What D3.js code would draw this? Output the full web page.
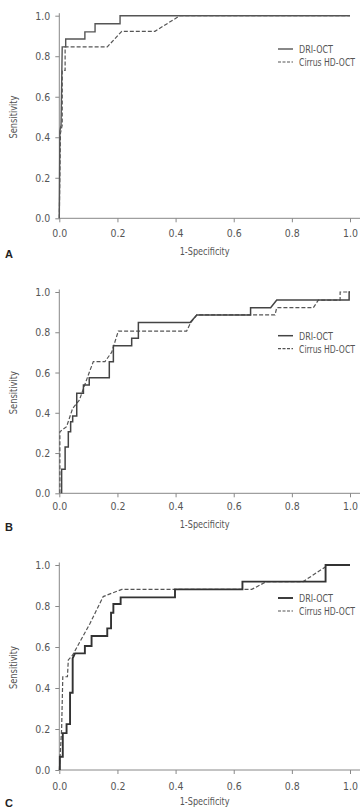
<!DOCTYPE html>
<html>
<head>
<meta charset="utf-8">
<script src="https://cdn.jsdelivr.net/npm/d3@7"></script>
<style>
  body { margin: 0; background: #fff; }
  svg { display: block; }
  text { font-family: "Liberation Sans Narrow", "DejaVu Sans Condensed", "DejaVu Sans", sans-serif; font-stretch: condensed; fill: #555; }
</style>
</head>
<body>
<svg id="chart" width="361" height="808"></svg>
<script>
// ROC points [1-specificity, sensitivity]
var driA = [[0,0],[0.002,0.43],[0.006,0.46],[0.01,0.846],[0.022,0.846],[0.022,0.885],[0.088,0.885],[0.088,0.92],[0.123,0.92],[0.123,0.96],[0.209,0.96],[0.209,1.0],[1.0,1.0]]
var cirrusA = [[0,0],[0.004,0.42],[0.01,0.46],[0.01,0.73],[0.02,0.73],[0.02,0.846],[0.165,0.846],[0.215,0.923],[0.329,0.923],[0.415,1.0],[1.0,1.0]]

var driB = [[0.008,0],[0.008,0.119],[0.02,0.119],[0.02,0.23],[0.031,0.23],[0.031,0.306],[0.039,0.306],[0.039,0.356],[0.046,0.356],[0.046,0.384],[0.06,0.384],[0.06,0.497],[0.083,0.497],[0.083,0.538],[0.103,0.538],[0.103,0.574],[0.172,0.574],[0.172,0.654],[0.186,0.654],[0.186,0.733],[0.249,0.733],[0.249,0.77],[0.272,0.77],[0.272,0.848],[0.45,0.848],[0.473,0.886],[0.658,0.886],[0.658,0.922],[0.727,0.922],[0.748,0.96],[0.997,0.96],[0.997,1.0],[1.0,1.0]]
var cirrusB = [[0.002,0],[0.002,0.306],[0.025,0.331],[0.046,0.422],[0.069,0.463],[0.083,0.52],[0.106,0.612],[0.117,0.654],[0.157,0.654],[0.18,0.70],[0.203,0.806],[0.438,0.806],[0.452,0.848],[0.473,0.886],[0.742,0.886],[0.748,0.922],[0.874,0.922],[0.891,0.96],[0.966,0.96],[0.966,1.0],[1.0,1.0]]

var driC = [[0.002,0],[0.002,0.065],[0.012,0.065],[0.012,0.18],[0.025,0.18],[0.025,0.224],[0.037,0.224],[0.037,0.377],[0.046,0.377],[0.046,0.545],[0.054,0.569],[0.088,0.569],[0.088,0.605],[0.111,0.605],[0.111,0.654],[0.165,0.654],[0.165,0.691],[0.178,0.691],[0.178,0.767],[0.186,0.767],[0.186,0.81],[0.211,0.81],[0.211,0.842],[0.398,0.842],[0.398,0.881],[0.63,0.881],[0.63,0.919],[0.916,0.919],[0.916,1.0],[1.0,1.0]]
var cirrusC = [[0,0],[0.008,0.2],[0.012,0.455],[0.028,0.455],[0.031,0.537],[0.046,0.561],[0.071,0.626],[0.106,0.716],[0.151,0.846],[0.18,0.862],[0.215,0.881],[0.662,0.881],[0.713,0.919],[0.839,0.919],[0.925,1.0],[1.0,1.0]]

var tickValues = [0, 0.2, 0.4, 0.6, 0.8, 1.0]
var seriesNames = ["DRI-OCT", "Cirrus HD-OCT"]
var panelLetters = ["A", "B", "C"]
var xTitle = "1-Specificity"
var yTitle = "Sensitivity"

var panels = [
    {letter: panelLetters[0], dri: driA, cirrus: cirrusA, top: 15.7, bottom: 218.3, pad: 7, xTitleY: 255, letterY: 258, legendY: 49, driWidth: 1.4, driColor: "#555"},
    {letter: panelLetters[1], dri: driB, cirrus: cirrusB, top: 292, bottom: 493.3, pad: 5, xTitleY: 528, letterY: 531, legendY: 335.7, driWidth: 1.5, driColor: "#444"},
    {letter: panelLetters[2], dri: driC, cirrus: cirrusC, top: 565, bottom: 770, pad: 8, xTitleY: 805, letterY: 807, legendY: 598, driWidth: 1.9, driColor: "#333"}
]

var dimensions = { left: 59.3, right: 350 }
var legendWidths = [34, 56]

var svg = d3.select("#chart")

// squeeze a text horizontally to the reference width if the installed font runs wider
function fitWidth(sel, w) {
    sel.each(function () {
        var len = this.getComputedTextLength()
        if (len > w) {
            var t = d3.select(this)
            var x = +t.attr("x") || 0
            var prev = t.attr("transform") || ""
            t.attr("transform", prev + " translate(" + x + ",0) scale(" + (w / len) + ",1) translate(" + (-x) + ",0)")
        }
    })
}

panels.forEach(function (p) {
    var xScale = d3.scaleLinear().domain([0, 1]).range([dimensions.left, dimensions.right])
    var yScale = d3.scaleLinear().domain([0, 1]).range([p.bottom, p.top])

    var g = svg.append("g")

    //x axis
    var xAxis = g.append("g")
        .attr("transform", "translate(0," + p.bottom + ")")
        .call(d3.axisBottom(xScale).tickValues(tickValues).tickFormat(d3.format(".1f")).tickSize(4).tickSizeOuter(0).tickPadding(p.pad))
    xAxis.select(".domain").attr("d", "M" + xScale(0) + ",0H" + (xScale(1) + 10))

    //y axis
    var yAxis = g.append("g")
        .attr("transform", "translate(" + dimensions.left + ",0)")
        .call(d3.axisLeft(yScale).tickValues(tickValues).tickFormat(d3.format(".1f")).tickSize(4).tickSizeOuter(0).tickPadding(5))
    yAxis.select(".domain").attr("d", "M0," + yScale(0) + "V" + (yScale(1) - 2.5))

    g.selectAll(".domain, .tick line").attr("stroke", "#888").attr("stroke-width", 1)
    g.selectAll(".tick text")
        .style("font-family", "\"Liberation Sans Narrow\", \"DejaVu Sans Condensed\", \"DejaVu Sans\", sans-serif")
        .style("font-stretch", "condensed")
        .style("font-size", "11px")
        .attr("fill", "#666")
        .call(fitWidth, 15)

    var line = d3.line().x(d => xScale(d[0])).y(d => yScale(d[1]))

    g.append("path")
        .datum(p.cirrus)
        .attr("d", line)
        .attr("fill", "none")
        .attr("stroke", "#555")
        .attr("stroke-width", 1.2)
        .attr("stroke-dasharray", "4,2")

    g.append("path")
        .datum(p.dri)
        .attr("d", line)
        .attr("fill", "none")
        .attr("stroke", p.driColor)
        .attr("stroke-width", p.driWidth)

    //legend
    var lg = g.append("g").attr("transform", "translate(278," + p.legendY + ")")
    lg.append("line").attr("x1", 0).attr("x2", 15).attr("y1", 0).attr("y2", 0)
        .attr("stroke", p.driColor).attr("stroke-width", p.driWidth)
    lg.append("line").attr("x1", 0).attr("x2", 15).attr("y1", 13).attr("y2", 13)
        .attr("stroke", "#555").attr("stroke-width", 1.2).attr("stroke-dasharray", "3,1.5")
    lg.selectAll("text.leg")
        .data(seriesNames)
        .enter()
        .append("text")
        .attr("class", "leg")
        .attr("x", 21)
        .attr("y", (d, i) => i * 13 + 4)
        .style("font-size", "11px")
        .text(d => d)
        .each(function (d, i) { fitWidth(d3.select(this), legendWidths[i]) })

    //graph labels
    g.append("text")
        .attr("x", (xScale(0) + xScale(1)) / 2)
        .attr("y", p.xTitleY)
        .style("text-anchor", "middle")
        .style("font-size", "11px")
        .text(xTitle)
        .call(fitWidth, 50)

    g.append("text")
        .attr("transform", "rotate(-90)")
        .attr("x", -(p.top + p.bottom) / 2)
        .attr("y", 17)
        .style("text-anchor", "middle")
        .style("font-size", "11px")
        .text(yTitle)
        .call(fitWidth, 43)

    g.append("text")
        .attr("x", 5)
        .attr("y", p.letterY)
        .style("font-family", "\"Liberation Sans\", Arial, sans-serif")
        .style("font-stretch", "normal")
        .style("font-weight", "bold")
        .style("font-size", "11px")
        .style("fill", "#222")
        .text(p.letter)
})
</script>
</body>
</html>
